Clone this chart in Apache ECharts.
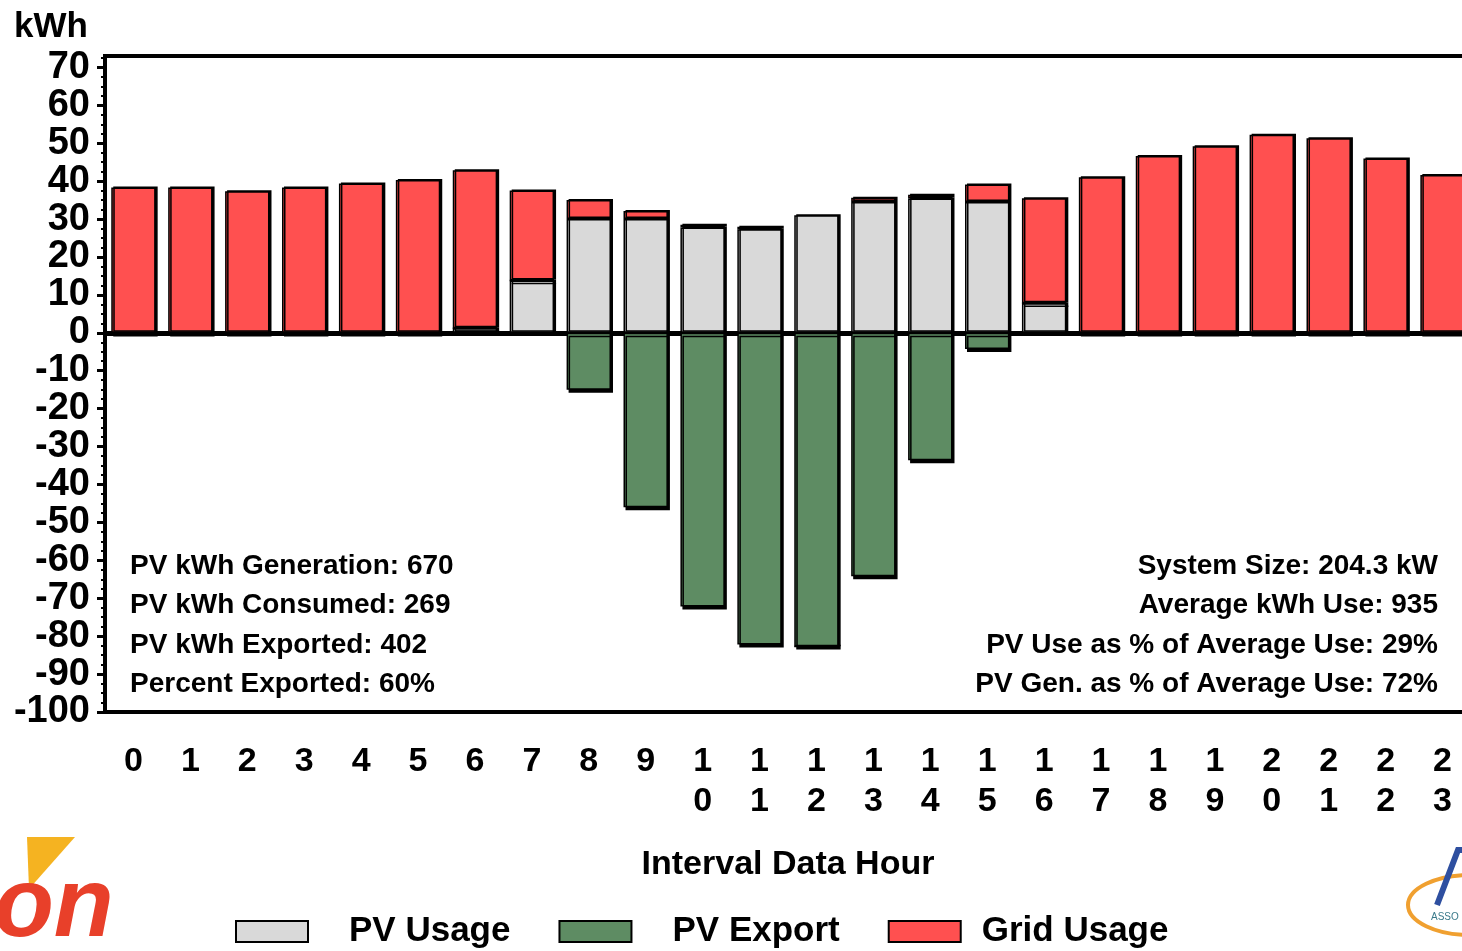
<!DOCTYPE html>
<html>
<head>
<meta charset="utf-8">
<script src="https://cdn.jsdelivr.net/npm/echarts@6/dist/echarts.min.js"></script>
<style>
html,body{margin:0;padding:0;background:#fff;}
#chart{width:1462px;height:951px;}
</style>
</head>
<body>
<div id="chart"></div>
<script>
const hours = ['0','1','2','3','4','5','6','7','8','9','10','11','12','13','14','15','16','17','18','19','20','21','22','23'];
const pvUsage  = [0,0,0,0,0,0,1.2,13.8,30,30,27.8,27.3,31,34.5,35.4,34.5,7.8,0,0,0,0,0,0,0];
const gridUsage= [38.3,38.3,37.3,38.3,39.4,40.3,41.7,23.7,5,2.1,0.7,0.7,0,1.1,1,4.6,27.7,41,46.6,49.2,52.2,51.3,46,41.6];
const pvExport = [0,0,0,0,0,0,0,0,-15,-46,-72.2,-82.2,-82.7,-64.2,-33.6,-4.3,0,0,0,0,0,0,0,0];
const yTicks = [-100,-90,-80,-70,-60,-50,-40,-30,-20,-10,0,10,20,30,40,50,60,70];
const seriesNames = ['PV Usage','PV Export','Grid Usage'];
const leftStats = ['PV kWh Generation: 670','PV kWh Consumed: 269','PV kWh Exported: 402','Percent Exported: 60%'];
const rightStats = ['System Size: 204.3 kW','Average kWh Use: 935','PV Use as % of Average Use: 29%','PV Gen. as % of Average Use: 72%'];

const FONT = "'Liberation Sans', Arial, sans-serif";
const chart = echarts.init(document.getElementById('chart'), null, {renderer:'canvas'});

function barStyle(color, neg){
  return {color: color, borderColor:'#000', borderWidth:1.5,
          shadowColor:'#000', shadowBlur:0, shadowOffsetX:2, shadowOffsetY: neg?3:-1};
}

const graphics = [];
leftStats.forEach((t,i)=>{
  graphics.push({type:'text', left:130, top:552+i*39.5,
    style:{text:t, font:"bold 28px "+FONT, fill:'#000'}});
});
rightStats.forEach((t,i)=>{
  graphics.push({type:'text', right:24, top:552+i*39.5,
    style:{text:t, font:"bold 28px "+FONT, fill:'#000', textAlign:'right'}});
});
graphics.push({type:'text', left:14, top:10, style:{text:'kWh', font:"bold 35px "+FONT, fill:'#000'}});
// left logo
graphics.push({type:'polygon', shape:{points:[[27,837],[75,837],[29,889]]}, style:{fill:'#F5B321'}});
graphics.push({type:'text', left:-6, top:860, style:{text:'on', font:"italic bold 98px "+FONT, fill:'#E8402A'}});
// right logo
graphics.push({type:'ellipse', shape:{cx:1470, cy:905, rx:62, ry:30}, style:{fill:'none', stroke:'#F0A030', lineWidth:4}});
graphics.push({type:'polyline', shape:{points:[[1437,905],[1458,850],[1462,850]]}, style:{stroke:'#2E4FA0', lineWidth:6, fill:'none'}});
graphics.push({type:'text', left:1431, top:912, style:{text:'ASSO', font:"10px "+FONT, fill:'#3A7A8A'}});

const legendItems = seriesNames.map((n,i)=> i===2 ? {name:n, textStyle:{padding:[0,0,0,16]}} : {name:n});

const option = {
  animation:false,
  backgroundColor:'#fff',
  textStyle:{fontFamily:FONT},
  grid:{left:105, top:56, width:1366, bottom:239, show:true, borderColor:'#000', borderWidth:4,
        containLabel:false, outerBoundsMode:'none'},
  legend:{
    data:legendItems, left:230, top:909, itemWidth:72, itemGap:48, itemHeight:21, icon:'rect',
    textStyle:{fontSize:35, fontWeight:'bold', color:'#000', fontFamily:FONT, padding:[0,0,0,36]}
  },
  xAxis:[{
    type:'category', data:hours, position:'bottom',
    axisLine:{show:false, onZero:false}, axisTick:{show:false},
    axisLabel:{margin:30, fontSize:34, fontWeight:'bold', color:'#000', lineHeight:40, interval:0,
      formatter:(v)=>v.split('').join('\n'), verticalAlign:'top'},
    name:'Interval Data Hour', nameLocation:'middle', nameGap:136,
    nameTextStyle:{fontSize:34, fontWeight:'bold', color:'#000'}
  },{
    type:'category', data:hours, position:'bottom',
    axisLine:{show:true, onZero:true, lineStyle:{color:'#000', width:5}},
    axisTick:{show:false}, axisLabel:{show:false}
  }],
  yAxis:{
    type:'value', min:-100, max:73, interval:10,
    axisLine:{show:true, lineStyle:{color:'#000', width:4}},
    axisTick:{show:true, length:8, lineStyle:{color:'#000', width:3}, customValues:yTicks},
    minorTick:{show:true, splitNumber:4, length:4, lineStyle:{color:'#000', width:2}},
    splitLine:{show:false},
    axisLabel:{fontSize:38, fontWeight:'bold', color:'#000', margin:15, customValues:yTicks}
  },
  series:[
    {name:'PV Usage', type:'bar', stack:'a', data:pvUsage, barWidth:'78%', itemStyle:barStyle('#D9D9D9', false)},
    {name:'PV Export', type:'bar', stack:'a', data:pvExport, barWidth:'78%', itemStyle:barStyle('#5E8C63', true)},
    {name:'Grid Usage', type:'bar', stack:'a', data:gridUsage, barWidth:'78%', itemStyle:barStyle('#FF5050', false)}
  ],
  graphic:graphics
};
chart.setOption(option);
</script>
</body>
</html>
